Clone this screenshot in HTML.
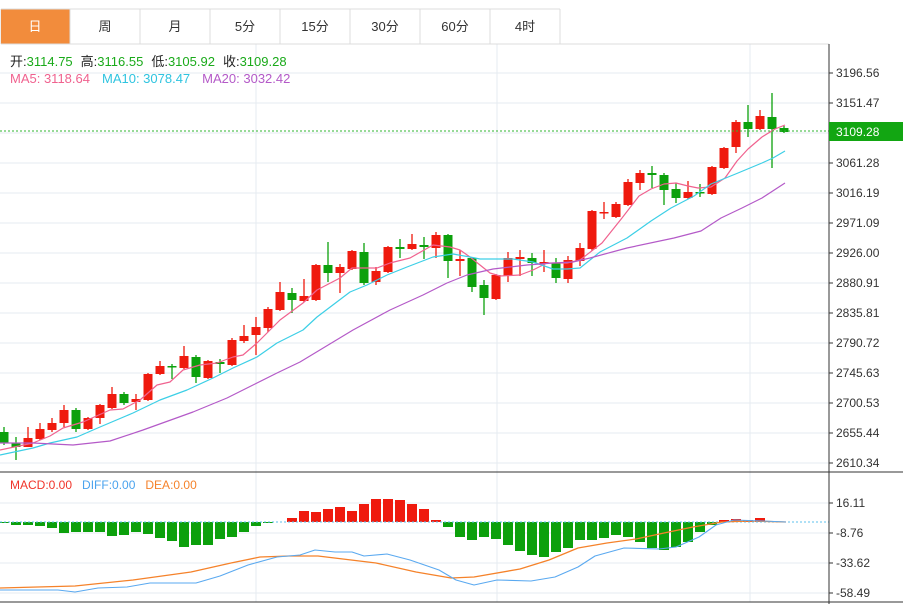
<!DOCTYPE html>
<html><head><meta charset="utf-8"><style>
body{margin:0;background:#fff;width:903px;height:604px;overflow:hidden;font-family:"Liberation Sans","Noto Sans CJK SC",sans-serif}
svg{position:absolute;left:0;top:0}
</style></head><body>
<svg id="s" width="903" height="604" xmlns="http://www.w3.org/2000/svg" font-family="Liberation Sans, Noto Sans CJK SC, sans-serif">
<rect width="903" height="604" fill="#fff"/>
<g id="grid" stroke="#e6ebf0" stroke-width="1"></g>
<!-- tabs -->
<g font-size="13" text-anchor="middle" fill="#333">
<rect x="1" y="9" width="69" height="35" fill="#f28c3c"/>
<path d="M1 9H560M1 44H829M70 9V44M140 9V44M210 9V44M280 9V44M350 9V44M420 9V44M490 9V44M560 9V44M0 9V44" stroke="#dcdcdc" fill="none"/>
<text x="35" y="31" fill="#fff">日</text>
<text x="105" y="31">周</text>
<text x="175" y="31">月</text>
<text x="245" y="31">5分</text>
<text x="315" y="31">15分</text>
<text x="385" y="31">30分</text>
<text x="455" y="31">60分</text>
<text x="525" y="31">4时</text>
</g>
<g font-size="13">
<text x="10" y="66"><tspan fill="#222">开:</tspan><tspan fill="#1aaa1a">3114.75</tspan><tspan fill="#222" dx="8">高:</tspan><tspan fill="#1aaa1a">3116.55</tspan><tspan fill="#222" dx="8">低:</tspan><tspan fill="#1aaa1a">3105.92</tspan><tspan fill="#222" dx="8">收:</tspan><tspan fill="#1aaa1a">3109.28</tspan></text>
<text x="10" y="83"><tspan fill="#f0628f">MA5: 3118.64</tspan><tspan fill="#2fc4e0" dx="12">MA10: 3078.47</tspan><tspan fill="#b45ac8" dx="12">MA20: 3032.42</tspan></text>
<text x="10" y="489" font-size="12"><tspan fill="#f0342a">MACD:0.00</tspan><tspan fill="#4aa3ee" dx="10">DIFF:0.00</tspan><tspan fill="#f5822a" dx="10">DEA:0.00</tspan></text>
</g>
<g id="plot"></g>
<line x1="0" y1="131" x2="829" y2="131" stroke="#2fb52f" stroke-dasharray="2,2"/>
<line x1="829" y1="44" x2="829" y2="604" stroke="#333"/>
<line x1="0" y1="472" x2="903" y2="472" stroke="#333"/>
<line x1="0" y1="602" x2="903" y2="602" stroke="#333"/>
<g font-size="12" fill="#333">
<text x="836" y="77">3196.56</text><text x="836" y="107">3151.47</text>
<text x="836" y="167">3061.28</text><text x="836" y="197">3016.19</text>
<text x="836" y="227">2971.09</text><text x="836" y="257">2926.00</text>
<text x="836" y="287">2880.91</text><text x="836" y="317">2835.81</text>
<text x="836" y="347">2790.72</text><text x="836" y="377">2745.63</text>
<text x="836" y="407">2700.53</text><text x="836" y="437">2655.44</text>
<text x="836" y="467">2610.34</text>
<text x="836" y="507">16.11</text><text x="836" y="537">-8.76</text>
<text x="836" y="567">-33.62</text><text x="836" y="597">-58.49</text>
</g>
<g stroke="#333"><path d="M829 73h4M829 103h4M829 163h4M829 193h4M829 223h4M829 253h4M829 283h4M829 313h4M829 343h4M829 373h4M829 403h4M829 433h4M829 463h4M829 503h4M829 533h4M829 563h4M829 593h4"/></g>
<rect x="829" y="122" width="74" height="19" fill="#12a612"/>
<text x="836" y="136" font-size="12" fill="#fff">3109.28</text>
</svg>
<script>
var NS="http://www.w3.org/2000/svg";
function el(p,t,a){var e=document.createElementNS(NS,t);for(var k in a)e.setAttribute(k,a[k]);p.appendChild(e);return e;}
var g=document.getElementById('grid'),P=document.getElementById('plot');
[73,103,133,163,193,223,253,283,313,343,373,403,433,463,503,533,563,593].forEach(function(y){el(g,'line',{x1:0,x2:829,y1:y,y2:y});});
[256,497,750].forEach(function(x){el(g,'line',{x1:x,x2:x,y1:44,y2:602});});
// [open_y, close_y, high_y, low_y]
var C=[[432,443,427,445],[443,447,437,460],[447,438,427,447],[439,429,423,440],[430,423,418,432],[423,410,405,427],[410,429,408,432],[429,418,417,430],[418,405,404,424],[408,394,387,409],[394,403,392,405],[402,399,394,410],[400,374,373,401],[374,366,361,375],[366,367,364,379],[368,356,346,369],[357,377,355,383],[378,361,360,379],[362,364,359,373],[365,340,338,366],[341,336,325,343],[335,327,317,355],[328,309,307,332],[310,292,282,311],[293,300,288,313],[301,296,279,302],[300,265,264,301],[265,273,242,282],[273,267,264,293],[269,251,250,270],[252,283,243,285],[282,271,267,285],[272,247,246,273],[247,249,239,258],[249,244,234,250],[245,247,237,259],[248,235,232,258],[235,261,234,278],[261,259,250,276],[258,287,257,292],[285,298,280,315],[299,275,274,300],[276,258,252,282],[259,257,250,276],[258,263,253,276],[263,262,250,272],[263,278,258,283],[279,260,256,283],[261,248,243,266],[249,211,210,251],[213,212,202,219],[217,204,202,218],[205,182,179,206],[183,173,170,190],[173,175,166,188],[175,190,173,205],[189,198,183,203],[198,192,181,199],[192,193,184,197],[194,167,166,195],[168,148,147,169],[147,122,120,153],[122,129,105,137],[129,116,110,130],[117,129,93,168],[128,132,126,133]];
function line(pts,col,w){el(P,'polyline',{points:pts.map(function(p){return p.join(',')}).join(' '),fill:'none',stroke:col,'stroke-width':w||1.2,'stroke-linejoin':'round'});}
C.forEach(function(c,i){var x=4+12*i,up=c[1]<c[0],col=up?'#ef1a0e':'#0ca00c';
el(P,'line',{x1:x,x2:x,y1:c[2],y2:c[3],stroke:col,'stroke-width':1.3});
var t=Math.min(c[0],c[1]),h=Math.max(1.5,Math.abs(c[0]-c[1]));el(P,'rect',{x:x-4.5,y:t,width:9,height:h,fill:col});});
// MACD histogram
var H=[1,3,3,4,6,11,10,10,10,14,13,10,12,16,19,25,23,23,17,15,10,4,1,0,-4,-11,-10,-13,-15,-11,-18,-23,-23,-22,-18,-13,-2,5,15,18,15,17,23,29,33,35,30,26,18,18,16,13,15,20,26,28,25,20,10,3,-2,-3,-2,-4,0];
H.forEach(function(v,i){var x=4+12*i;if(v===0)return;var col=v>0?'#0ca00c':'#ef1a0e';el(P,'rect',{x:x-5,y:v>0?522:522+v,width:10,height:Math.abs(v),fill:col});});
el(P,'line',{x1:0,x2:829,y1:522,y2:522,stroke:'#5cc0ee','stroke-dasharray':'2,2'});
line([[0,450],[33,443],[50,436],[63,428],[83,422],[110,410],[123,409],[140,400],[157,385],[170,382],[183,370],[200,365],[217,363],[233,357],[243,355],[257,343],[267,333],[280,320],[303,303],[317,290],[340,278],[352,268],[377,268],[390,263],[410,258],[433,245],[450,247],[460,250],[470,257],[490,273],[500,276],[520,275],[533,270],[547,263],[567,263],[580,260],[602,243],[622,218],[639,196],[651,189],[664,184],[676,183],[688,186],[698,188],[711,187],[725,178],[737,161],[748,149],[762,137],[775,129],[785,125]],'#f0628f');
line([[0,455],[33,448],[50,443],[77,437],[100,427],[133,413],[160,400],[187,390],[213,378],[233,368],[257,357],[277,343],[303,330],[317,317],[350,292],[367,285],[387,275],[407,267],[433,257],[453,254],[470,257],[480,259],[513,259],[533,262],[553,269],[567,269],[580,268],[600,252],[627,238],[651,221],[671,208],[694,196],[711,184],[738,173],[762,163],[773,158],[785,151]],'#3ccfe6');
line([[0,443],[33,443],[73,445],[110,441],[143,430],[193,412],[227,398],[253,385],[277,373],[300,362],[353,330],[390,310],[423,295],[447,283],[467,275],[493,269],[527,265],[553,263],[573,262],[590,258],[627,248],[674,238],[701,231],[721,218],[742,208],[762,198],[785,183]],'#b45ac8');
line([[0,588],[75,586],[133,580],[191,572],[231,563],[260,557],[289,556],[318,556],[376,563],[416,572],[451,578],[474,577],[520,569],[549,560],[578,548],[607,543],[636,539],[664,533],[693,527],[722,522],[751,521],[786,522]],'#f5822a',1.3);
line([[0,590],[58,590],[75,592],[98,588],[127,587],[150,583],[196,583],[220,576],[248,565],[277,557],[300,555],[315,550],[335,552],[352,552],[364,556],[387,554],[410,560],[439,570],[456,580],[474,585],[497,580],[531,581],[555,577],[578,567],[595,556],[624,548],[659,549],[676,547],[699,537],[716,525],[734,520],[763,521],[786,522]],'#5aa9f0',1.1);
</script>
</body></html>
